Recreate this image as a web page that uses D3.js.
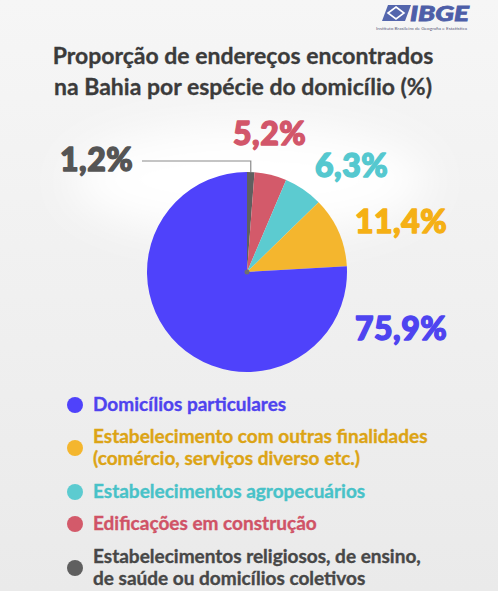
<!DOCTYPE html>
<meta charset="utf-8">
<script src="https://cdn.jsdelivr.net/npm/d3@7"></script>
<style>
 html, body { margin: 0; padding: 0; background: #f1f1f1; }
 svg { display: block; }
</style>
<div id="container"></div>
<script>
 // data
 var categories = [
     "Estabelecimentos religiosos, de ensino, de saúde ou domicílios coletivos",
     "Edificações em construção",
     "Estabelecimentos agropecuários",
     "Estabelecimento com outras finalidades (comércio, serviços diverso etc.)",
     "Domicílios particulares"
 ];
 var values = [1.2, 5.2, 6.3, 11.4, 75.9];
 var valueLabels = ["1,2%", "5,2%", "6,3%", "11,4%", "75,9%"];
 var sliceColors = ["#5f5f5f", "#d35a6a", "#5ccbd0", "#f4b62e", "#4f42fb"];
 var labelColors = ["#555555", "#d2566a", "#55c8cf", "#f5b015", "#4e44f0"];

 // legend, top to bottom (index into the arrays above), wrapped lines
 var legendOrder = [4, 3, 2, 1, 0];
 var legendLines = [
     ["Domicílios particulares"],
     ["Estabelecimento com outras finalidades", "(comércio, serviços diverso etc.)"],
     ["Estabelecimentos agropecuários"],
     ["Edificações em construção"],
     ["Estabelecimentos religiosos, de ensino,", "de saúde ou domicílios coletivos"]
 ];
 var legendTextColors = ["#4f43ee", "#dca415", "#48c2c8", "#d05366", "#474747"];

 var width = 498, height = 591;
 var cx = 247, cy = 272, radius = 100;
 var font = "Lato, 'Open Sans', sans-serif";

 var svg = d3.select("#container").append("svg")
             .attr("width", width)
             .attr("height", height);

 var defs = svg.append("defs");
 var bg = defs.append("linearGradient").attr("id", "bg")
              .attr("x1", 0).attr("y1", 0).attr("x2", 0).attr("y2", 1);
 bg.append("stop").attr("offset", "0%").attr("stop-color", "#f6f6f6");
 bg.append("stop").attr("offset", "100%").attr("stop-color", "#eaeaea");
 defs.append("filter").attr("id", "blur")
     .attr("x", "-50%").attr("y", "-50%").attr("width", "200%").attr("height", "200%")
     .append("feGaussianBlur").attr("stdDeviation", 22);

 svg.append("rect").attr("width", width).attr("height", height).attr("fill", "url(#bg)");
 // soft white glow behind the pie top
 svg.append("ellipse")
    .attr("cx", 250).attr("cy", 180).attr("rx", 180).attr("ry", 55)
    .attr("fill", "#ffffff").attr("filter", "url(#blur)");

 // IBGE logo
 var logo = svg.append("g").attr("transform", "translate(376,4)");
 logo.append("path")
     .attr("d", "M12,1 L35,1 L29,17 L6,17 Z")
     .attr("fill", "#5466ad");
 logo.append("path")
     .attr("d", "M20,3 L28,9 L20,15 L12,9 Z")
     .attr("fill", "none").attr("stroke", "#ffffff").attr("stroke-width", 1.6);
 logo.append("text")
     .attr("x", 34).attr("y", 17)
     .attr("font-family", font).attr("font-weight", 900).attr("font-style", "italic")
     .attr("font-size", 21).attr("fill", "#4d5ea8")
     .attr("stroke", "#4d5ea8").attr("stroke-width", 0.8)
     .attr("textLength", 59).attr("lengthAdjust", "spacingAndGlyphs")
     .text("IBGE");
 logo.append("text")
     .attr("x", 0).attr("y", 26)
     .attr("font-family", font).attr("font-size", 4.6).attr("fill", "#5a5a7a")
     .attr("textLength", 91).attr("lengthAdjust", "spacingAndGlyphs")
     .text("Instituto Brasileiro de Geografia e Estatística");

 // title
 var title = svg.append("text")
                .attr("text-anchor", "middle")
                .attr("font-family", font).attr("font-weight", 700)
                .attr("font-size", 23).attr("fill", "#3b3b3b")
                .attr("stroke", "#3b3b3b").attr("stroke-width", 0.3);
 title.append("tspan").attr("x", 243).attr("y", 64).text("Proporção de endereços encontrados");
 title.append("tspan").attr("x", 243).attr("y", 95).text("na Bahia por espécie do domicílio (%)");

 // pie
 var pie = d3.pie().sort(null).value(d => d);
 var arc = d3.arc().innerRadius(0).outerRadius(radius);
 var arcs = pie(values);

 var g = svg.append("g").attr("transform", `translate(${cx},${cy})`);
 g.selectAll("path.slice")
  .data(arcs)
  .enter().append("path")
  .attr("class", "slice")
  .attr("d", arc)
  .attr("fill", (d, i) => sliceColors[i]);

 g.append("circle").attr("r", 2.5).attr("fill", "#6f6f6f");

 // leader line for the tiny slice
 var small = arcs[0];
 var topPt = d3.pointRadial((small.startAngle + small.endAngle) / 2, radius);
 g.append("path")
  .attr("d", `M${-105},${-111} H${topPt[0]} V${topPt[1]}`)
  .attr("fill", "none").attr("stroke", "#8a8a8a").attr("stroke-width", 1.2);

 // value labels, offsets from pie centre
 var labelPos = [[-187, -101], [-14, -127], [68, -95], [108, -39], [108, 68]];
 g.selectAll("text.val")
  .data(arcs)
  .enter().append("text")
  .attr("class", "val")
  .attr("x", (d, i) => labelPos[i][0])
  .attr("y", (d, i) => labelPos[i][1])
  .attr("font-family", font).attr("font-weight", 900)
  .attr("font-size", 32).attr("letter-spacing", 0.5)
  .attr("fill", (d, i) => labelColors[i])
  .attr("stroke", (d, i) => labelColors[i]).attr("stroke-width", 1.4)
  .attr("stroke-linejoin", "round")
  .text((d, i) => valueLabels[i]);

 // legend
 var legendTop = [411, 443, 498, 530, 563];
 var lineGap = 22;
 var lg = svg.append("g");
 legendOrder.forEach(function(idx, row) {
     var lines = legendLines[row];
     var y0 = legendTop[row];
     var dotY = y0 - 6 + (lines.length - 1) * lineGap / 2;
     lg.append("circle")
       .attr("cx", 75).attr("cy", dotY).attr("r", 8)
       .attr("fill", sliceColors[idx]);
     var t = lg.append("text")
               .attr("font-family", font).attr("font-weight", 700)
               .attr("font-size", 19).attr("fill", legendTextColors[row])
               .attr("stroke", legendTextColors[row]).attr("stroke-width", 0.35);
     lines.forEach(function(line, k) {
         t.append("tspan").attr("x", 93).attr("y", y0 + k * lineGap).text(line);
     });
 });
</script>
